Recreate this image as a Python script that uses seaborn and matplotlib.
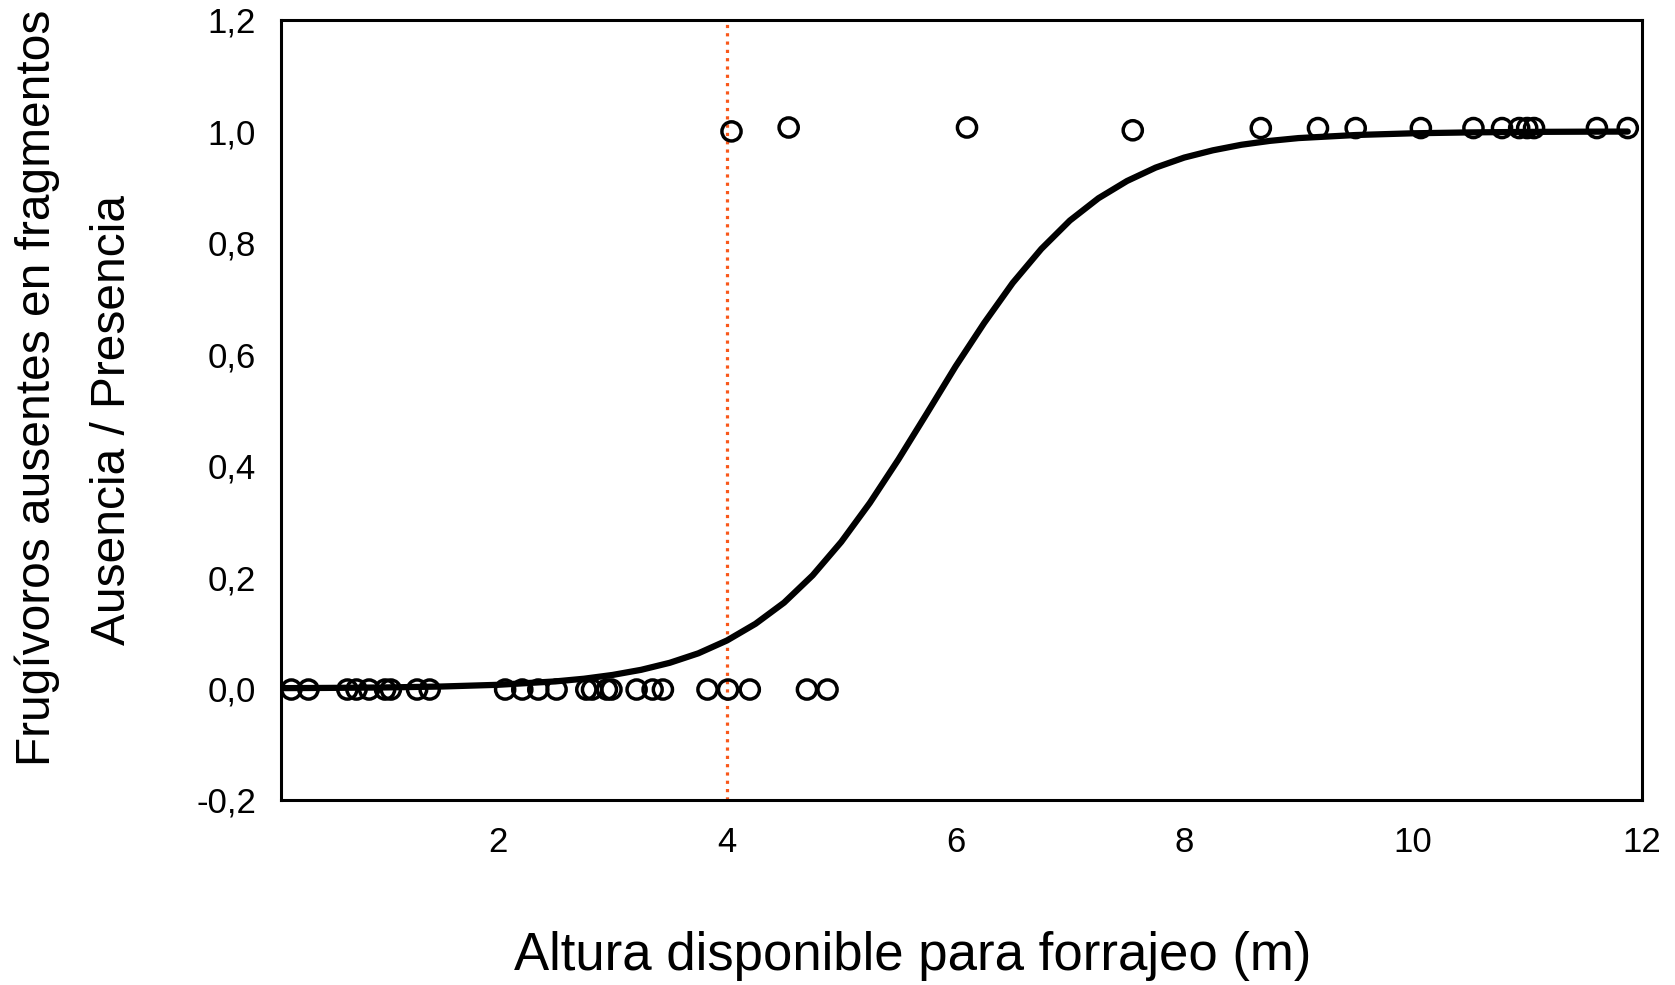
import numpy as np
import pandas as pd
import matplotlib
matplotlib.use("Agg")
import matplotlib.pyplot as plt
import seaborn as sns

# Observed data: presence (1) / absence (0) vs available foraging height (m)
x_absent = [0.19, 0.34, 0.68, 0.76, 0.87, 1.01, 1.06, 1.29, 1.40,
            2.06, 2.21, 2.35, 2.51, 2.77, 2.82, 2.95, 2.99, 3.21, 3.35, 3.44,
            3.83, 4.01, 4.20, 4.70, 4.88]
y_absent = [-0.002] * len(x_absent)

x_present = [4.04, 4.54, 6.10, 7.55, 8.67, 9.17, 9.50, 10.07, 10.53,
             10.78, 10.93, 11.00, 11.06, 11.61, 11.88]
y_present = [1.000, 1.007, 1.007, 1.002, 1.006, 1.006, 1.006, 1.006, 1.006,
             1.006, 1.006, 1.006, 1.006, 1.006, 1.006]

# Fitted curve
curve_x = [0.10, 0.50, 1.00, 1.50, 2.00, 2.50, 2.75, 3.00, 3.25, 3.50, 3.75,
           4.00, 4.25, 4.50, 4.75, 5.00, 5.25, 5.50, 5.75, 6.00, 6.25, 6.50,
           6.75, 7.00, 7.25, 7.50, 7.75, 8.00, 8.25, 8.50, 8.75, 9.00, 9.50,
           10.00, 10.50, 11.00, 11.50, 11.88]
curve_y = [0.0005, 0.0009, 0.0017, 0.0034, 0.0065, 0.0126, 0.0174, 0.0242,
           0.0334, 0.046, 0.063, 0.086, 0.116, 0.154, 0.203, 0.263, 0.333,
           0.411, 0.494, 0.578, 0.656, 0.728, 0.789, 0.840, 0.880, 0.911,
           0.935, 0.953, 0.966, 0.976, 0.983, 0.988, 0.9935, 0.9966, 0.9982,
           0.9991, 0.9995, 0.9997]

threshold_x = 4.0

x_ticks = [2, 4, 6, 8, 10, 12]
y_ticks = [-0.2, 0.0, 0.2, 0.4, 0.6, 0.8, 1.0, 1.2]
y_ticklabels = ["-0,2", "0,0", "0,2", "0,4", "0,6", "0,8", "1,0", "1,2"]

xlabel = "Altura disponible para forrajeo (m)"
ylabel_1 = "Frugívoros ausentes en fragmentos"
ylabel_2 = "Ausencia / Presencia"

sns.set_theme(style="white")
fam = ["Liberation Sans", "DejaVu Sans"]
plt.rcParams["font.family"] = fam

fig = plt.figure(figsize=(16.75, 9.85), dpi=100)
ax = fig.add_axes([0.1678, 0.188, 0.980 - 0.1678, 0.9797 - 0.188])

pts = pd.DataFrame({"x": x_absent + x_present, "y": y_absent + y_present})
curve = pd.DataFrame({"x": curve_x, "y": curve_y})

ax.axvline(threshold_x, color="#F9581A", linestyle=(0, (1, 1.6)), linewidth=2.3, zorder=1)
sns.lineplot(data=curve, x="x", y="y", ax=ax, color="black", linewidth=4.5,
             zorder=2, sort=False)
sns.scatterplot(data=pts, x="x", y="y", ax=ax, marker="o", s=190,
                facecolor="none", edgecolor="black", linewidth=2.5, zorder=3)

ax.set_xlim(0.1, 12)
ax.set_ylim(-0.2, 1.2)
ax.set_xticks(x_ticks)
ax.set_xticklabels([str(t) for t in x_ticks])
ax.set_yticks(y_ticks)
ax.set_yticklabels(y_ticklabels)
ax.tick_params(axis="both", which="major", direction="out", length=4, width=2,
               labelsize=25, colors="black")
ax.tick_params(axis="x", pad=15)
ax.tick_params(axis="y", pad=14)
for sp in ax.spines.values():
    sp.set_visible(True)
    sp.set_color("black")
    sp.set_linewidth(2.2)
ax.set_xlabel("")
ax.set_ylabel("")

fig.text(0.5448, 1 - 956 / 985, xlabel, ha="center", va="center", fontsize=38, color="black")
fig.text(0.022, 1 - 388 / 985, ylabel_1, rotation=90, ha="center", va="center",
         fontsize=34.5, color="black")
fig.text(0.0669, 1 - 420 / 985, ylabel_2, rotation=90, ha="center", va="center",
         fontsize=34.5, color="black")

fig.savefig("out.png", dpi=100, facecolor="white")
